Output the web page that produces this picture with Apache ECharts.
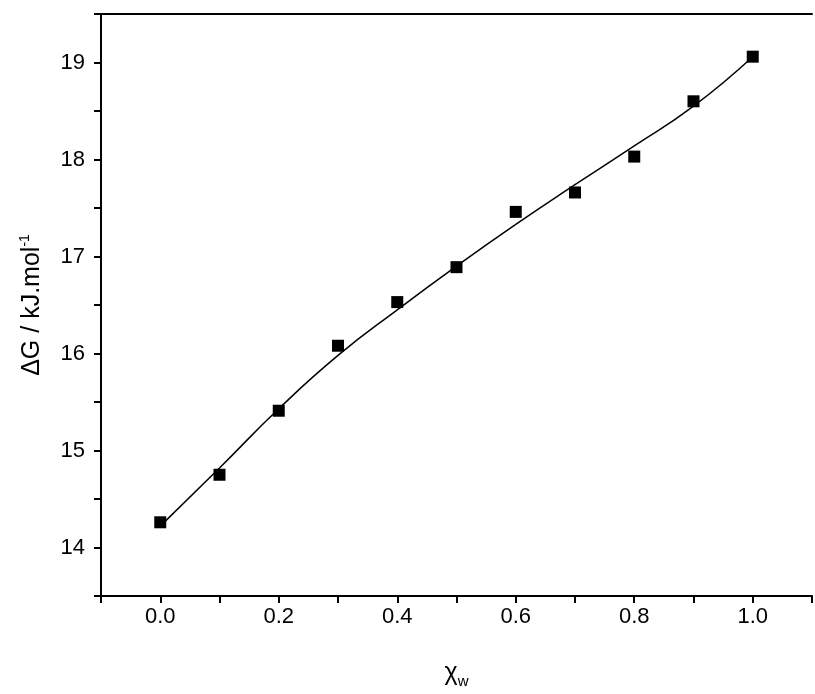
<!DOCTYPE html><html><head><meta charset="utf-8"><script src="https://cdn.jsdelivr.net/npm/echarts@6/dist/echarts.min.js"></script>
<style>html,body{margin:0;background:#fff}#c{width:815px;height:694px}</style></head><body><div id="c"></div><script>
const xw=[0,0.1,0.2,0.3,0.4,0.5,0.6,0.7,0.8,0.9,1.0];
const dG=[14.26,14.75,15.41,16.08,16.53,16.89,17.46,17.66,18.03,18.6,19.06];
const fit=[14.22,14.82,15.43,15.98,16.45,16.9,17.33,17.74,18.14,18.55,19.06];
const font='Arial';
const ch=echarts.init(document.getElementById('c'));
const line={show:true,onZero:false,lineStyle:{color:'#000',width:2}};
const tick={show:true,inside:false,length:7,lineStyle:{color:'#000',width:2}};
ch.setOption({animation:false,
grid:{left:101,right:-9,top:14,bottom:96},
xAxis:[{type:'value',min:-0.1,max:1.1,interval:0.1,axisLine:line,axisTick:tick,splitLine:{show:false},
name:'χ{s|w}',nameLocation:'middle',nameGap:62,
nameTextStyle:{color:'#000',fontSize:25,fontFamily:font,rich:{s:{fontSize:15,fontFamily:font,padding:[16,0,0,0]}}},
axisLabel:{color:'#000',fontSize:22,fontFamily:font,margin:10,
formatter:v=>{const k=Math.round(v*10);return (k>=0&&k<=10&&k%2===0)?(k/10).toFixed(1):'';}}},
{type:'value',position:'top',min:-0.1,max:1.1,axisLine:line,axisTick:{show:false},axisLabel:{show:false},splitLine:{show:false}}],
yAxis:[{type:'value',min:13.5,max:19.5,interval:0.5,axisLine:line,axisTick:tick,splitLine:{show:false},
name:'ΔG / kJ.mol{s|-1}',nameLocation:'middle',nameGap:55,
nameTextStyle:{color:'#000',fontSize:25,fontFamily:font,rich:{s:{fontSize:14,fontFamily:font,padding:[0,0,14,0]}}},
axisLabel:{color:'#000',fontSize:22,fontFamily:font,margin:16,
formatter:v=>{const k=Math.round(v*2);return (k%2===0&&v>=14&&v<=19)?String(k/2):'';}}}],
series:[{type:'line',data:xw.map((x,i)=>[x,fit[i]]),smooth:0.5,showSymbol:false,lineStyle:{color:'#000',width:1.5}},
{type:'scatter',data:xw.map((x,i)=>[x,dG[i]]),symbol:'rect',symbolSize:12,itemStyle:{color:'#000',opacity:1}}]});
</script></body></html>
